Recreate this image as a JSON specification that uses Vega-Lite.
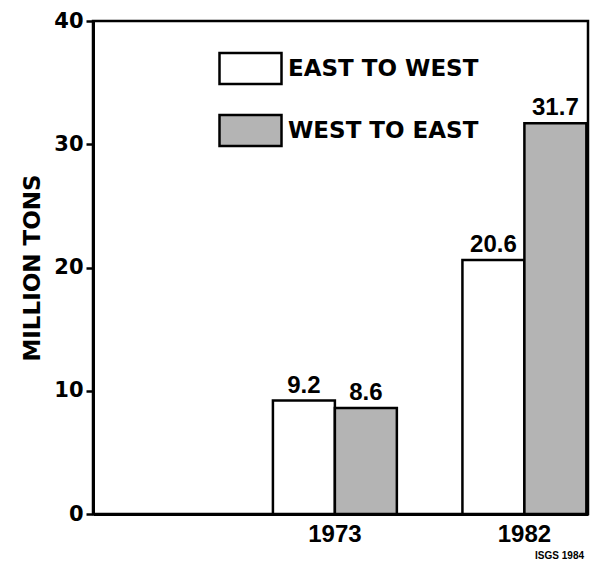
{
  "$schema": "https://vega.github.io/schema/vega-lite/v6.json",
  "autosize": "none",
  "width": 495,
  "height": 493,
  "padding": {"left": 93, "top": 21, "right": 6, "bottom": 49},
  "background": "white",
  "title": {
    "text": "ISGS  1984",
    "orient": "bottom",
    "anchor": "end",
    "font": "Liberation Sans",
    "fontSize": 10,
    "fontWeight": "bold",
    "color": "black",
    "offset": 5,
    "dx": -4
  },
  "config": {
    "view": {"stroke": "black", "strokeWidth": 2.5},
    "axis": {
      "domainColor": "black",
      "domainWidth": 3,
      "tickColor": "black",
      "tickWidth": 2.5,
      "grid": false,
      "labelColor": "black",
      "titleColor": "black"
    }
  },
  "data": {
    "values": [
      {"year": "1973", "dir": "EAST TO WEST", "value": 9.2, "label": "9.2"},
      {"year": "1973", "dir": "WEST TO EAST", "value": 8.6, "label": "8.6"},
      {"year": "1982", "dir": "EAST TO WEST", "value": 20.6, "label": "20.6"},
      {"year": "1982", "dir": "WEST TO EAST", "value": 31.7, "label": "31.7"}
    ]
  },
  "encoding": {
    "x": {
      "field": "year",
      "type": "nominal",
      "scale": {"type": "band", "domain": ["1973", "1982"], "paddingInner": 0.346, "paddingOuter": 0.479, "align": 0.991},
      "axis": {
        "title": null,
        "labelAngle": 0,
        "ticks": false,
        "labelFont": "Liberation Sans",
        "labelFontSize": 24,
        "labelFontWeight": "bold",
        "labelPadding": 8,
        "domainWidth": 3
      }
    },
    "xOffset": {
      "field": "dir",
      "type": "nominal",
      "scale": {"paddingInner": 0, "paddingOuter": 0}
    },
    "y": {
      "field": "value",
      "type": "quantitative",
      "scale": {"domain": [0, 40], "nice": false},
      "axis": {
        "title": "MILLION TONS",
        "values": [0, 10, 20, 30, 40],
        "tickSize": 7,
        "labelPadding": 3,
        "labelFont": "DejaVu Sans",
        "labelFontSize": 21,
        "labelFontWeight": "bold",
        "titleFont": "DejaVu Sans",
        "titleFontSize": 23,
        "titleFontWeight": "bold",
        "titlePadding": 9
      }
    }
  },
  "layer": [
    {
      "mark": {"type": "bar", "stroke": "black", "strokeWidth": 2.5},
      "encoding": {
        "fill": {
          "field": "dir",
          "type": "nominal",
          "scale": {"domain": ["EAST TO WEST", "WEST TO EAST"], "range": ["white", "#b4b4b4"]},
          "legend": {
            "orient": "none",
            "legendX": 125,
            "legendY": 15,
            "title": null,
            "padding": 0,
            "symbolType": "M-1,-0.5H1V0.5H-1Z",
            "symbolSize": 3844,
            "symbolStrokeColor": "black",
            "symbolStrokeWidth": 2.5,
            "labelFont": "DejaVu Sans",
            "labelFontSize": 23,
            "labelFontWeight": "bold",
            "labelColor": "black",
            "labelOffset": 5,
            "labelLimit": 400,
            "rowPadding": 9
          }
        }
      }
    },
    {
      "mark": {
        "type": "text",
        "font": "Liberation Sans",
        "fontSize": 24,
        "fontWeight": "bold",
        "color": "black",
        "baseline": "alphabetic",
        "dy": -8
      },
      "encoding": {
        "text": {"field": "label"}
      }
    }
  ]
}
